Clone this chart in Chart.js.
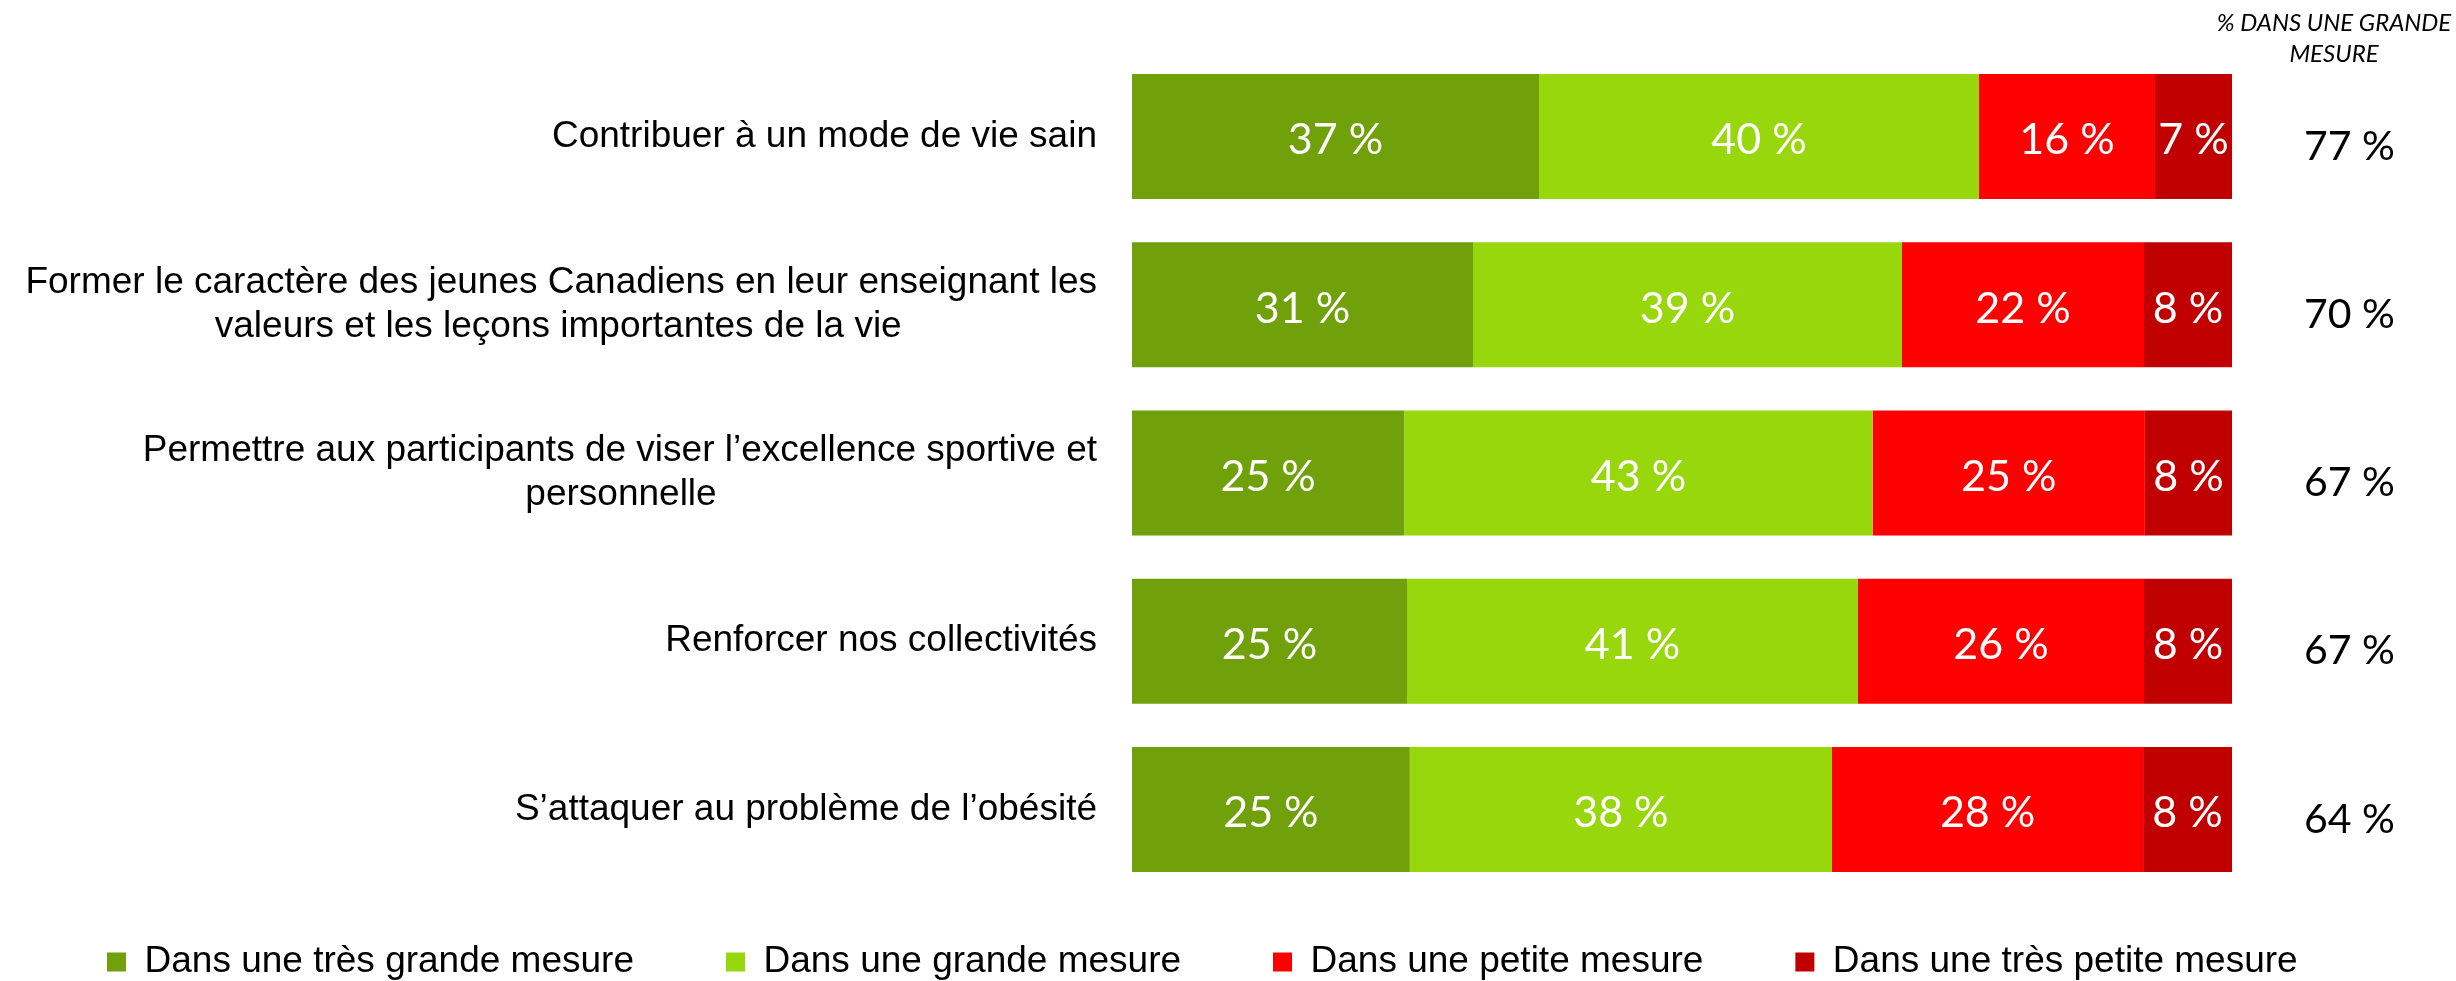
<!DOCTYPE html>
<html>
<head>
<meta charset="utf-8">
<script src="https://cdn.jsdelivr.net/npm/chart.js@4/dist/chart.umd.min.js"></script>
<style>
  html, body { margin: 0; padding: 0; background: #ffffff; }
  #wrap { position: relative; width: 2456px; height: 981px; }
</style>
</head>
<body>
<div id="wrap"><canvas id="chart"></canvas></div>
<script>
// ---- Data ----
const categories = [
  'Contribuer à un mode de vie sain',
  ['Former le caractère des jeunes Canadiens en leur enseignant les', 'valeurs et les leçons importantes de la vie'],
  ['Permettre aux participants de viser l’excellence sportive et', 'personnelle'],
  'Renforcer nos collectivités',
  'S’attaquer au problème de l’obésité'
];
const seriesNames = [
  'Dans une très grande mesure',
  'Dans une grande mesure',
  'Dans une petite mesure',
  'Dans une très petite mesure'
];
const tresGrande = [37, 31, 25, 25, 25];
const grande     = [40, 39, 43, 41, 38];
const petite     = [16, 22, 25, 26, 28];
const tresPetite = [7, 8, 8, 8, 8];
const totalsGrande = [77, 70, 67, 67, 64];
const totalHeader = ['% DANS UNE GRANDE', 'MESURE'];
const seriesColors = ['#70A00A', '#97D70B', '#FF0000', '#C00000'];

// ---- Build chart structures ----
const seriesValues = [tresGrande, grande, petite, tresPetite];
const rowTotals = categories.map((c, j) => seriesValues.reduce((s, arr) => s + arr[j], 0));
const datasets = seriesValues.map((vals, i) => ({
  label: seriesNames[i],
  data: vals.map((v, j) => v / rowTotals[j] * 100),
  backgroundColor: seriesColors[i],
  borderWidth: 0,
  barPercentage: 0.742,
  categoryPercentage: 1.0
}));

const LABEL_FONT = { family: "'Liberation Sans', Arial, sans-serif", size: 37, lineHeight: 1.2 };
const measureCtx = document.createElement('canvas').getContext('2d');
function centerLines(lines) {
  measureCtx.font = LABEL_FONT.size + "px " + LABEL_FONT.family;
  const widths = lines.map(l => measureCtx.measureText(l).width);
  const widest = Math.max.apply(null, widths);
  const sp = measureCtx.measureText(' ').width;
  return lines.map((l, i) => l + ' '.repeat(Math.round((widest - widths[i]) / 2 / sp)));
}

const barValueLabels = {
  id: 'barValueLabels',
  afterDatasetsDraw(chart) {
    const ctx = chart.ctx;
    ctx.save();
    ctx.font = "43px Lato";
    ctx.fillStyle = '#ffffff';
    ctx.textAlign = 'center';
    ctx.textBaseline = 'middle';
    chart.data.datasets.forEach((ds, i) => {
      chart.getDatasetMeta(i).data.forEach((el, j) => {
        ctx.fillText(seriesValues[i][j] + ' %', (el.x + el.base) / 2, el.y + 4);
      });
    });
    ctx.restore();
  }
};

const headerPlugin = {
  id: 'totalHeader',
  afterDraw(chart) {
    const ctx = chart.ctx;
    const a = chart.chartArea;
    ctx.save();
    ctx.font = "italic 24px Lato";
    ctx.fillStyle = '#000000';
    ctx.textAlign = 'center';
    ctx.textBaseline = 'middle';
    const cx = a.right + 102;
    ctx.fillText(totalHeader[0], cx, a.top - 29);
    ctx.fillText(totalHeader[1], cx, a.top + 2);
    ctx.restore();
  }
};

// Move the legend row up (its padding also sets the horizontal gap between items)
const legendShift = {
  id: 'legendShift',
  afterLayout(chart) {
    const lg = chart.legend;
    if (!lg) return;
    lg.top -= 42;
    lg.bottom = chart.height;
  }
};

function noEdgePadding(s) {
  s.paddingTop = 0;
  s.paddingBottom = 0;
}

new Chart(document.getElementById('chart'), {
  type: 'bar',
  data: { labels: categories, datasets: datasets },
  options: {
    indexAxis: 'y',
    responsive: true,
    maintainAspectRatio: false,
    animation: false,
    events: [],
    layout: { padding: { top: 52.4, left: 15, right: 0, bottom: 0 } },
    scales: {
      x: { stacked: true, min: 0, max: 100, display: false },
      y: {
        stacked: true,
        offset: true,
        grid: { display: false, drawTicks: false },
        border: { display: false },
        ticks: {
          color: '#000000',
          font: LABEL_FONT,
          padding: 35,
          callback: function (value) {
            const lbl = this.getLabelForValue(value);
            return Array.isArray(lbl) ? centerLines(lbl) : lbl;
          }
        },
        afterFit: (s) => { s.width = 1117; noEdgePadding(s); }
      },
      y2: {
        type: 'category',
        position: 'right',
        labels: totalsGrande.map(v => v + ' %'),
        offset: true,
        grid: { display: false, drawTicks: false },
        border: { display: false },
        ticks: { color: '#000000', font: { family: 'Lato', size: 41 }, padding: 72, labelOffset: 10 },
        afterFit: (s) => { s.width = 224; noEdgePadding(s); }
      }
    },
    plugins: {
      tooltip: { enabled: false },
      title: { display: false },
      legend: {
        display: true,
        position: 'bottom',
        align: 'start',
        maxHeight: 87.4,
        labels: {
          color: '#000000',
          font: { family: "'Liberation Sans', Arial, sans-serif", size: 37 },
          boxWidth: 19,
          boxHeight: 19,
          padding: 92
        }
      }
    }
  },
  plugins: [barValueLabels, headerPlugin, legendShift]
});
</script>
</body>
</html>
